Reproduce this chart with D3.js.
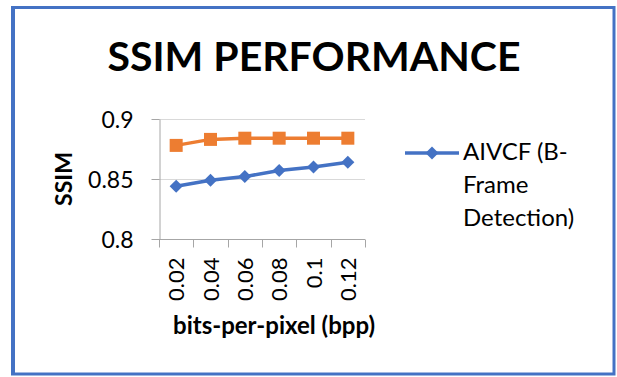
<!DOCTYPE html>
<html>
<head>
<meta charset="utf-8">
<script src="https://cdn.jsdelivr.net/npm/d3@7"></script>
<style>
  html, body { margin: 0; padding: 0; background: #fff; }
  svg { display: block; }
  text { font-family: Lato, "Noto Sans", sans-serif; fill: #000; }
</style>
</head>
<body>
<svg id="chart" width="617" height="377"></svg>
<script>
// bits-per-pixel categories
const categories = ["0.02", "0.04", "0.06", "0.08", "0.1", "0.12"];
// SSIM for AIVCF with B-frame detection
const aivcfValues = [0.844, 0.849, 0.852, 0.857, 0.860, 0.864];
// second (unlabelled) series
const otherValues = [0.878, 0.883, 0.884, 0.884, 0.884, 0.884];
const yTicks = [0.8, 0.85, 0.9];
const yTickLabels = ["0.8", "0.85", "0.9"];

const blue = "#4472C4";
const orange = "#ED7D31";

const svg = d3.select("#chart");

// outer frame
svg.append("rect")
  .attr("x", 12.5).attr("y", 7.5)
  .attr("width", 601.5).attr("height", 366.5)
  .attr("fill", "none").attr("stroke", blue).attr("stroke-width", 3);
svg.append("line")
  .attr("x1", 13).attr("x2", 13).attr("y1", 6).attr("y2", 375)
  .attr("stroke", blue).attr("stroke-width", 4);

// title
svg.append("text")
  .attr("x", 314).attr("y", 71)
  .attr("text-anchor", "middle")
  .attr("font-size", 41).attr("font-weight", "bold")
  .text("SSIM PERFORMANCE");

const plot = { left: 159, right: 365, top: 119, bottom: 239 };

const x = d3.scaleBand().domain(categories).range([plot.left, plot.right]);
const y = d3.scaleLinear().domain([0.8, 0.9]).range([plot.bottom, plot.top]);

// horizontal gridlines
svg.append("g")
  .selectAll("line")
  .data(yTicks.slice(1))
  .join("line")
  .attr("x1", plot.left).attr("x2", plot.right)
  .attr("y1", d => Math.round(y(d)) + 0.5).attr("y2", d => Math.round(y(d)) + 0.5)
  .attr("stroke", "#d9d9d9").attr("stroke-width", 1);

// y axis
const yAxis = svg.append("g")
  .attr("transform", `translate(${plot.left + 0.5},0)`)
  .call(d3.axisLeft(y).tickValues(yTicks).tickSize(8).tickSizeOuter(0)
    .tickFormat((d, i) => yTickLabels[i]));
yAxis.select(".domain").attr("stroke", "#a6a6a6");
yAxis.selectAll(".tick line").attr("stroke", "#a6a6a6");
yAxis.selectAll(".tick text")
  .attr("font-family", "Lato, sans-serif")
  .attr("font-size", 23).attr("fill", "#000")
  .attr("x", -26).attr("dy", "0.35em");

// x axis with category boundary ticks
const xAxis = svg.append("g")
  .attr("transform", `translate(0,${plot.bottom + 0.5})`);
xAxis.append("line")
  .attr("x1", plot.left).attr("x2", plot.right)
  .attr("stroke", "#a6a6a6");
const boundaries = categories.map(c => x(c)).concat([x(categories[categories.length - 1]) + x.bandwidth()]);
xAxis.selectAll("line.tk")
  .data(boundaries)
  .join("line").attr("class", "tk")
  .attr("x1", d => Math.round(d) + 0.5).attr("x2", d => Math.round(d) + 0.5)
  .attr("y1", 0).attr("y2", 8)
  .attr("stroke", "#a6a6a6");
xAxis.selectAll("text.lbl")
  .data(categories)
  .join("text").attr("class", "lbl")
  .attr("transform", d => `translate(${x(d) + x.bandwidth() / 2 + 8},18) rotate(-90)`)
  .attr("text-anchor", "end")
  .attr("font-size", 22)
  .text(d => d);

// axis titles
svg.append("text")
  .attr("transform", "translate(72,179) rotate(-90)")
  .attr("text-anchor", "middle")
  .attr("font-size", 23).attr("font-weight", "bold")
  .text("SSIM");

svg.append("text")
  .attr("x", 274).attr("y", 334)
  .attr("text-anchor", "middle")
  .attr("font-size", 24).attr("font-weight", "bold")
  .text("bits-per-pixel (bpp)");

const cx = d => x(d) + x.bandwidth() / 2;
const line = d3.line().x(d => cx(d.c)).y(d => y(d.v));

// orange series with square markers
const otherData = categories.map((c, i) => ({ c, v: otherValues[i] }));
svg.append("path").datum(otherData)
  .attr("d", line).attr("fill", "none")
  .attr("stroke", orange).attr("stroke-width", 3.5);
svg.append("g").selectAll("rect")
  .data(otherData).join("rect")
  .attr("x", d => cx(d.c) - 6.5).attr("y", d => y(d.v) - 6.5)
  .attr("width", 13).attr("height", 13)
  .attr("fill", orange);

// blue series with diamond markers
const aivcfData = categories.map((c, i) => ({ c, v: aivcfValues[i] }));
const diamond = d3.symbol().type(d3.symbolSquare).size(85);
svg.append("path").datum(aivcfData)
  .attr("d", line).attr("fill", "none")
  .attr("stroke", blue).attr("stroke-width", 3.5);
svg.append("g").selectAll("path")
  .data(aivcfData).join("path")
  .attr("transform", d => `translate(${cx(d.c)},${y(d.v)}) rotate(45)`)
  .attr("d", diamond)
  .attr("fill", blue);

// legend
const lg = svg.append("g");
lg.append("line")
  .attr("x1", 405).attr("x2", 459).attr("y1", 153).attr("y2", 153)
  .attr("stroke", blue).attr("stroke-width", 3.5);
lg.append("path")
  .attr("transform", "translate(432,153) rotate(45)")
  .attr("d", diamond)
  .attr("fill", blue);
const legendLines = ["AIVCF (B-", "Frame", "Detection)"];
lg.selectAll("text")
  .data(legendLines).join("text")
  .attr("x", 463).attr("y", (d, i) => 160 + i * 33)
  .attr("font-size", 24)
  .text(d => d);
</script>
</body>
</html>
